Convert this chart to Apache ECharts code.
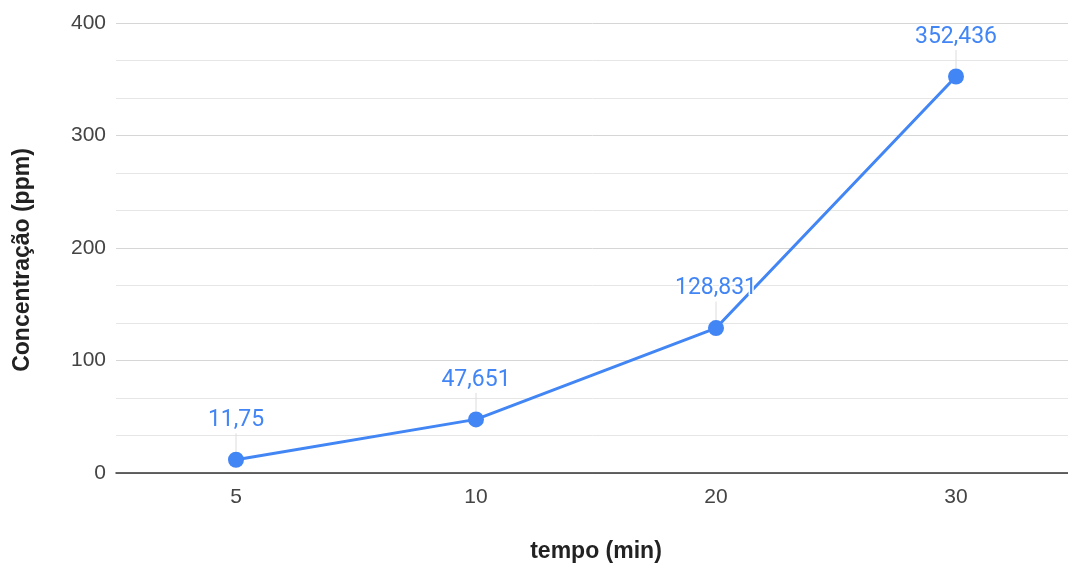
<!DOCTYPE html>
<html>
  <head>
    <meta charset="utf-8" />
    <script src="https://cdn.jsdelivr.net/npm/echarts@6/dist/echarts.min.js"></script>
    <style>
      html, body { margin: 0; padding: 0; background: #fff; }
      #main { width: 1068px; height: 566px; }
    </style>
  </head>
  <body>
    <div id="main"></div>
    <script type="text/javascript">
      var tempos = ['5', '10', '20', '30'];
      var concentracao = [11.75, 47.651, 128.831, 352.436];
      var rotulos = ['11,75', '47,651', '128,831', '352,436'];

      var myChart = echarts.init(document.getElementById('main'));

      var option = {
        animation: false,
        textStyle: { fontFamily: '"Liberation Sans", Arial, sans-serif' },
        grid: { left: 116, width: 960, top: 23, bottom: 93, outerBoundsMode: 'none' },
        xAxis: {
          type: 'category',
          data: tempos,
          name: 'tempo (min)',
          nameLocation: 'middle',
          nameGap: 67,
          nameTextStyle: { fontSize: 23, fontWeight: 'bold', color: '#222' },
          axisLine: { lineStyle: { color: '#333', width: 1.5 } },
          axisTick: { show: false },
          axisLabel: { fontSize: 21, color: '#444', margin: 14 }
        },
        yAxis: {
          type: 'value',
          min: 0,
          max: 400,
          interval: 100,
          name: 'Concentração (ppm)',
          nameLocation: 'middle',
          nameGap: 82,
          nameTextStyle: { fontSize: 23, fontWeight: 'bold', color: '#222', padding: [0, 24, 0, 0] },
          axisLine: { show: false },
          axisTick: { show: false },
          axisLabel: { fontSize: 21, color: '#444', margin: 10 },
          splitLine: { lineStyle: { color: '#d6d6d6', width: 1 } },
          minorTick: { show: false, splitNumber: 3 },
          minorSplitLine: { show: true, lineStyle: { color: '#e6e6e6', width: 1 } }
        },
        series: [
          {
            name: 'Concentração',
            type: 'line',
            data: concentracao,
            symbol: 'circle',
            symbolSize: 16,
            itemStyle: { color: '#4285F4' },
            lineStyle: { color: '#4285F4', width: 3 },
            label: {
              show: true,
              position: 'top',
              distance: 4,
              fontFamily: 'Roboto, sans-serif',
              fontSize: 23,
              color: '#4285F4',
              textBorderColor: '#fff',
              textBorderWidth: 3,
              formatter: function (p) { return rotulos[p.dataIndex]; }
            },
            labelLayout: { dy: -16 },
            labelLine: { show: true, lineStyle: { color: '#dcdcdc', width: 1 } }
          }
        ]
      };

      myChart.setOption(option);
    </script>
  </body>
</html>
